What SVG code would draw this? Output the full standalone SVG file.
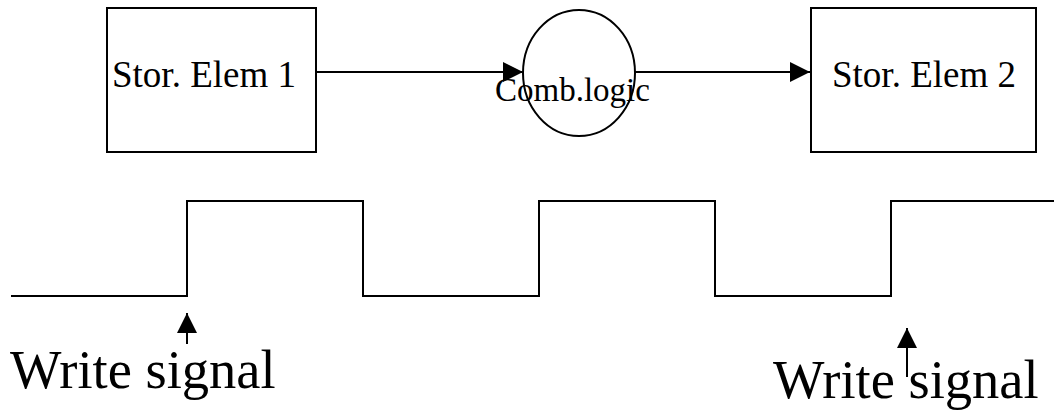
<svg xmlns="http://www.w3.org/2000/svg" width="1054" height="419" viewBox="0 0 1054 419">
  <style>
    .shape { fill: none; stroke: #000; stroke-width: 2; }
    .wire { fill: none; stroke: #000; stroke-width: 2; }
    .label { font-family: "Liberation Serif", "Times New Roman", serif; fill: #000; }
  </style>
  <defs>
    <marker id="head" viewBox="0 0 20 20" refX="20" refY="10" markerWidth="20" markerHeight="20" markerUnits="userSpaceOnUse" orient="auto">
      <path d="M0,0 L20,10 L0,20 Z" fill="#000"/>
    </marker>
  </defs>
  <rect width="1054" height="419" fill="#fff"/>

  <g id="stor-elem-1">
    <rect class="shape" x="107" y="8" width="209" height="144"/>
    <text class="label" x="112" y="87" font-size="37">Stor. Elem 1</text>
  </g>

  <g id="comb-logic">
    <ellipse class="shape" cx="579" cy="73" rx="56" ry="63"/>
    <text class="label" x="495" y="101" font-size="33">Comb.logic</text>
  </g>

  <g id="stor-elem-2">
    <rect class="shape" x="811" y="8" width="225" height="144"/>
    <text class="label" x="832" y="87" font-size="37">Stor. Elem 2</text>
  </g>

  <g id="connectors">
    <line class="wire" x1="316" y1="72" x2="523" y2="72" marker-end="url(#head)"/>
    <line class="wire" x1="635" y1="72" x2="810" y2="72" marker-end="url(#head)"/>
  </g>

  <g id="clock">
    <path class="wire" d="M11,296 H187 V201 H363 V296 H539 V201 H715 V296 H891 V201 H1054"/>
  </g>

  <g id="write-markers">
    <line class="wire" x1="187" y1="344" x2="187" y2="313" marker-end="url(#head)"/>
    <line class="wire" x1="907" y1="377" x2="907" y2="328" marker-end="url(#head)"/>
    <text class="label" x="10" y="388" font-size="54.5">Write signal</text>
    <text class="label" x="773" y="398" font-size="54.5">Write signal</text>
  </g>
</svg>
